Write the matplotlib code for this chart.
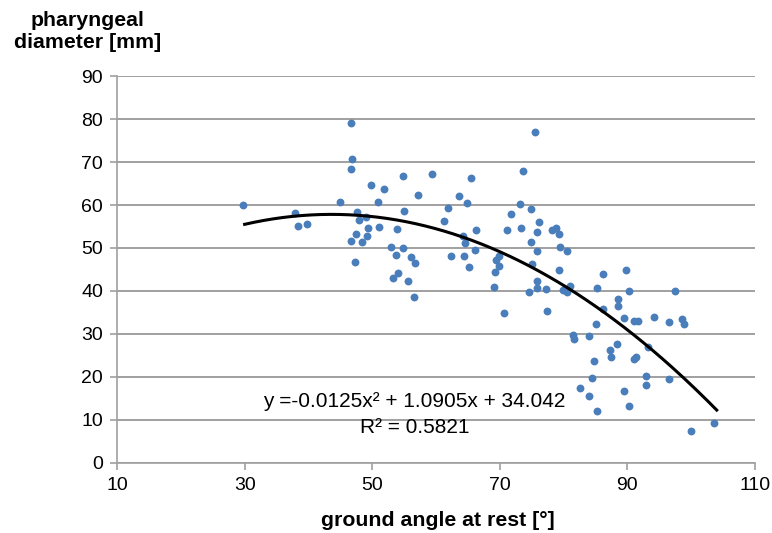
import numpy as np
import matplotlib
matplotlib.use("Agg")
import matplotlib.pyplot as plt

plt.rcParams['font.family'] = ['Liberation Sans', 'DejaVu Sans']

angle = [29.8, 37.9, 38.4, 39.7, 45.0, 46.6, 46.9, 46.6, 49.8, 51.8, 50.9, 47.6, 48.0, 49.1,
         49.3, 51.1, 53.9, 47.5, 49.2, 46.6, 48.4, 52.9, 53.7, 47.3, 53.3, 54.0,
         75.5, 54.9, 59.3, 65.5, 73.7, 57.2, 63.6, 64.9, 55.0, 61.9, 73.2, 74.9, 71.8,
         61.2, 76.1, 66.2, 71.1, 73.3, 75.8, 78.1, 78.8, 79.3, 64.3, 64.5, 74.9, 54.9,
         79.4, 66.1, 75.9, 80.6, 56.0, 62.3, 64.4, 56.7, 69.4, 69.9, 65.2, 69.9, 69.3,
         75.1, 79.2, 55.6, 75.9, 56.6, 69.1, 75.9, 77.3, 74.5, 79.9, 80.5, 70.6, 77.4,
         81.0, 86.2, 89.7, 85.2, 90.3, 97.4, 88.6, 88.5, 86.1, 89.4, 91.0, 91.6, 94.1,
         96.5, 98.6, 98.9, 85.0, 81.5, 81.7, 83.9, 93.2, 88.4, 87.2, 87.4, 91.0, 91.3,
         84.7, 84.4, 92.9, 92.9, 96.5, 82.6, 84.0, 89.5, 85.2, 90.3, 99.9, 103.6]
diameter = [60.1, 58.2, 55.2, 55.7, 60.7, 79.1, 70.8, 68.5, 64.6, 63.8, 60.6, 58.3, 56.5, 57.1,
            54.6, 54.8, 54.4, 53.2, 52.8, 51.6, 51.4, 50.2, 48.3, 46.8, 42.9, 44.1,
            76.9, 66.8, 67.3, 66.2, 68.0, 62.3, 62.1, 60.5, 58.6, 59.2, 60.3, 59.0, 58.0,
            56.2, 56.0, 54.2, 54.2, 54.6, 53.8, 54.2, 54.6, 53.3, 52.8, 51.1, 51.3, 50.0,
            50.3, 49.5, 49.2, 49.3, 47.9, 48.1, 48.1, 46.5, 47.3, 48.2, 45.6, 45.7, 44.4,
            46.3, 44.9, 42.2, 42.4, 38.6, 41.0, 40.7, 40.5, 39.7, 40.3, 39.8, 34.8, 35.4,
            41.1, 43.9, 44.9, 40.7, 39.9, 40.0, 38.1, 36.5, 35.7, 33.8, 33.1, 33.1, 33.9,
            32.8, 33.4, 32.2, 32.3, 29.8, 28.9, 29.6, 27.0, 27.6, 26.2, 24.7, 24.2, 24.6,
            23.7, 19.8, 20.3, 18.0, 19.6, 17.5, 15.5, 16.7, 12.1, 13.1, 7.4, 9.2]

coef = [-0.0125, 1.0905, 34.042]
fit_range = [30, 104]
x_ticks = [10, 30, 50, 70, 90, 110]
y_ticks = [0, 10, 20, 30, 40, 50, 60, 70, 80, 90]

fig = plt.figure(figsize=(7.72, 5.33), dpi=100)
ax = fig.add_axes([0.1516, 0.1319, 0.978 - 0.1516, 0.857 - 0.1319])

gray = '#A0A0A0'
ax.set_xlim(10, 110)
ax.set_ylim(0, 90)
ax.set_xticks(x_ticks)
ax.set_yticks(y_ticks)
ax.yaxis.grid(True, color=gray, linewidth=1.4)
ax.set_axisbelow(True)
for s in ['top', 'right']:
    ax.spines[s].set_visible(False)
for s in ['left', 'bottom']:
    ax.spines[s].set_color(gray)
    ax.spines[s].set_linewidth(1.2)
ax.tick_params(axis='both', direction='out', length=5, width=1.2, color=gray,
               labelsize=14, labelcolor='black', pad=5)

ax.scatter(angle, diameter, s=32, color='#4A7EBB', zorder=3, linewidths=0)

xf = np.linspace(fit_range[0], fit_range[1], 200)
yf = np.polyval(coef, xf)
ax.plot(xf, yf, color='black', linewidth=2.2, zorder=4)

ax.text(56.6, 14.2, 'y =-0.0125x² + 1.0905x + 34.042', ha='center', va='center', fontsize=15)
ax.text(56.6, 8.3, 'R² = 0.5821', ha='center', va='center', fontsize=15)

fig.text(438 / 772, 1 - 521 / 533, 'ground angle at rest [°]', ha='center', va='center',
         fontsize=15.3, fontweight='bold')
fig.text(88 / 772, 1 - 32 / 533, 'pharyngeal\ndiameter [mm]', ha='center', va='center',
         fontsize=15.3, fontweight='bold', linespacing=1.2)

fig.savefig('out.png', dpi=100)
